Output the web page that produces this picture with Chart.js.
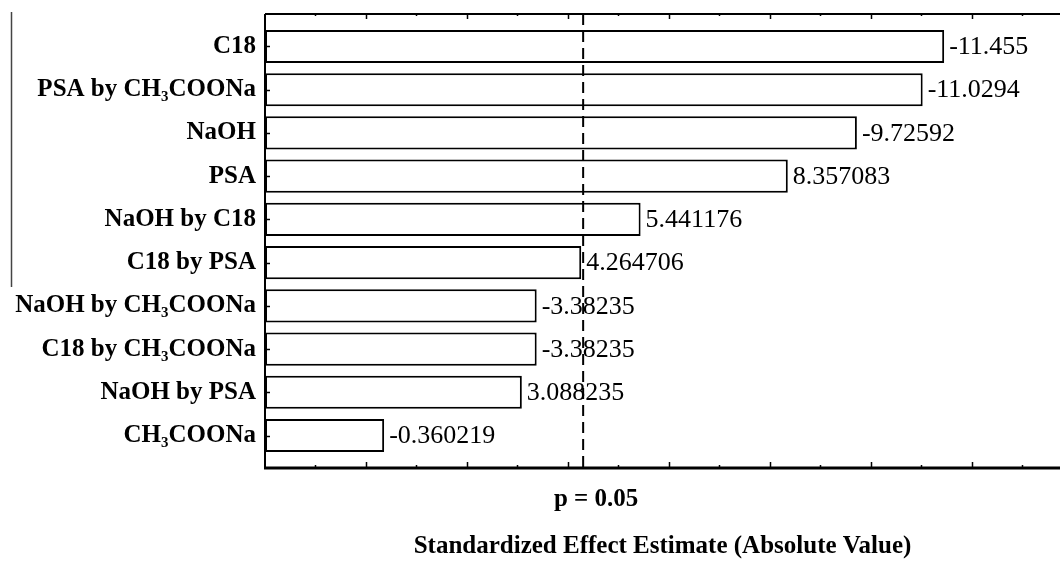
<!DOCTYPE html>
<html>
<head>
<meta charset="utf-8">
<script src="https://cdn.jsdelivr.net/npm/chart.js@4.4.1/dist/chart.umd.min.js"></script>
<style>
    html, body { margin: 0; padding: 0; background: #fff; }
    #wrap { position: relative; width: 1060px; height: 562px; }
</style>
</head>
<body>
<div id="wrap"><canvas id="paretoChart"></canvas></div>
<script>
// Effects, top to bottom
const effects = ['C18', 'PSA by CH₃COONa', 'NaOH', 'PSA', 'NaOH by C18', 'C18 by PSA',
    'NaOH by CH₃COONa', 'C18 by CH₃COONa', 'NaOH by PSA', 'CH₃COONa'];
// Standardized effect estimates, signed as printed beside each bar
const estimates = [-11.455, -11.0294, -9.72592, 8.357083, 5.441176, 4.264706, -3.38235, -3.38235, 3.088235, -0.360219];
// p = 0.05 reference line
const pCritical = 4.303;
const pLabel = 'p = 0.05';
// x axis range (the figure is cut off on the right) and its tick marks
const xMin = -2;
const xMax = 13.75;
const xTicks = [-1, 0, 1, 2, 3, 4, 5, 6, 7, 8, 9, 10, 11, 12, 13];
const xTitle = 'Standardized Effect Estimate (Absolute Value)';

const serif = '"Liberation Serif", "Times New Roman", serif';

// frame, inward ticks, p line and value labels
const paretoMarks = {
    id: 'paretoMarks',
    afterDatasetsDraw(chart) {
        const { ctx, chartArea: a, scales: { x, y } } = chart;
        ctx.save();
        ctx.strokeStyle = '#000';

        // frame: top, left, bottom
        ctx.lineWidth = 2;
        ctx.beginPath();
        ctx.moveTo(a.left, a.top); ctx.lineTo(a.right, a.top);
        ctx.moveTo(a.left, a.top); ctx.lineTo(a.left, a.bottom);
        ctx.stroke();
        ctx.lineWidth = 3;
        ctx.beginPath();
        ctx.moveTo(a.left - 1, a.bottom); ctx.lineTo(a.right, a.bottom);
        ctx.stroke();

        // tick marks
        ctx.lineWidth = 1.5;
        xTicks.forEach(v => {
            const px = Math.round(x.getPixelForValue(v)) + 0.5;
            const len = v % 2 === 0 ? 6 : 3;
            ctx.beginPath();
            ctx.moveTo(px, a.bottom); ctx.lineTo(px, a.bottom - len);
            ctx.moveTo(px, a.top); ctx.lineTo(px, a.top + len - 1);
            ctx.stroke();
        });
        effects.forEach((_, i) => {
            const py = Math.round(y.getPixelForValue(i)) + 0.5;
            ctx.beginPath(); ctx.moveTo(a.left, py); ctx.lineTo(a.left + 5, py); ctx.stroke();
        });

        // p = 0.05 dashed line
        const pc = x.getPixelForValue(pCritical);
        ctx.lineWidth = 2;
        ctx.setLineDash([11, 6]);
        ctx.beginPath(); ctx.moveTo(pc, a.top); ctx.lineTo(pc, a.bottom); ctx.stroke();
        ctx.setLineDash([]);

        ctx.fillStyle = '#000';
        ctx.font = 'bold 25px ' + serif;
        ctx.textAlign = 'center';
        ctx.textBaseline = 'middle';
        ctx.fillText(pLabel, pc + 13, a.bottom + 32);

        // value labels
        ctx.font = '26px ' + serif;
        ctx.textAlign = 'left';
        chart.getDatasetMeta(0).data.forEach((bar, i) => {
            ctx.fillText(String(estimates[i]), bar.x + 5, bar.y + 1);
        });

        // stray border line at the far left of the source figure
        ctx.strokeStyle = '#444';
        ctx.lineWidth = 1.5;
        ctx.beginPath(); ctx.moveTo(11.5, 12); ctx.lineTo(11.5, 287); ctx.stroke();
        ctx.restore();
    }
};

const ctx = document.getElementById('paretoChart').getContext('2d');
new Chart(ctx, {
    type: 'bar',
    data: {
        datasets: [{
            data: estimates.map((v, i) => ({ x: Math.abs(v), y: i })),
            base: xMin,
            backgroundColor: '#fff',
            borderColor: '#000',
            borderWidth: 2,
            borderSkipped: false,
            barPercentage: 0.765,
            categoryPercentage: 1
        }]
    },
    options: {
        indexAxis: 'y',
        responsive: true,
        maintainAspectRatio: false,
        animation: false,
        layout: { padding: { top: 14, right: 0, bottom: 0, left: 0 } },
        plugins: { legend: { display: false }, tooltip: { enabled: false } },
        scales: {
            x: {
                type: 'linear',
                min: xMin,
                max: xMax,
                afterFit: s => { s.height = 94; s.paddingLeft = 0; s.paddingRight = 0; },
                grid: { display: false },
                border: { display: false },
                ticks: { display: false },
                title: {
                    display: true,
                    text: xTitle,
                    color: '#000',
                    font: { family: serif, size: 25, weight: 'bold' },
                    padding: 0
                }
            },
            y: {
                type: 'linear',
                reverse: true,
                offset: false,
                min: -0.75,
                max: 9.75,
                afterBuildTicks: s => { s.ticks = effects.map((_, i) => ({ value: i })); },
                afterFit: s => { s.width = 265; s.paddingTop = 0; s.paddingBottom = 0; },
                grid: { display: false, drawTicks: false, offset: false },
                border: { display: false },
                ticks: {
                    autoSkip: false,
                    padding: 9,
                    color: '#000',
                    font: { family: serif, size: 25, weight: 'bold' },
                    callback: v => effects[v]
                }
            }
        }
    },
    plugins: [paretoMarks]
});
</script>
</body>
</html>
